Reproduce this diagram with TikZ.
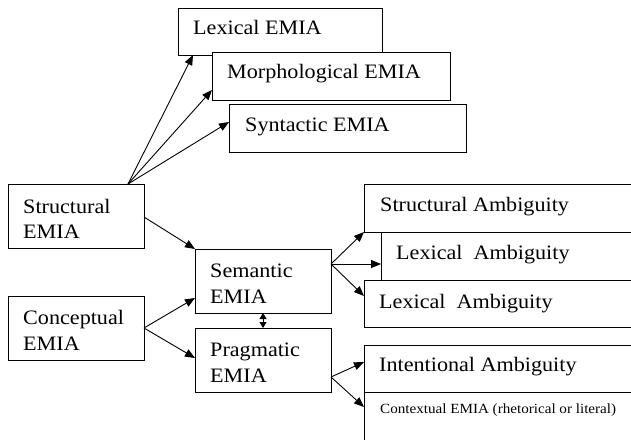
\documentclass[tikz,border=0pt]{standalone}
\usepackage{fontspec}
\setmainfont{Liberation Serif}[FakeStretch=1.08]
\usetikzlibrary{arrows.meta,calc}
\begin{document}
\begin{tikzpicture}[x=1pt,y=-1pt,
 box/.style={draw, line width=0.9pt, inner sep=0pt, outer sep=0pt, anchor=north west, fill=white},
 txt/.style={anchor=base west, inner sep=0pt, font=\fontsize{20.5}{24}\selectfont},
 smalltxt/.style={anchor=base west, inner sep=0pt, font=\fontsize{14}{17}\selectfont},
 arr/.style={-{Triangle[length=10pt,width=8pt]}, line width=0.9pt},
 dbl/.style={{Triangle[length=6pt,width=7pt]}-{Triangle[length=6pt,width=7pt]}, line width=0.9pt}]
\useasboundingbox (0,0) rectangle (631,439);
% boxes
\node[box, minimum width=204pt, minimum height=47pt] (lex) at (178,8) {};
\node[box, minimum width=238pt, minimum height=48pt] (mor) at (212,52) {};
\node[box, minimum width=237pt, minimum height=48pt] (syn) at (229,104) {};
\node[box, minimum width=136pt, minimum height=64pt] (str) at (8,184) {};
\node[box, minimum width=136pt, minimum height=64pt] (con) at (8,296) {};
\node[box, minimum width=136pt, minimum height=64pt] (sem) at (195,249) {};
\node[box, minimum width=136pt, minimum height=64pt] (pra) at (195,328) {};
\node[box, minimum width=280pt, minimum height=48pt] (sa) at (364,184) {};
\node[box, minimum width=263pt, minimum height=48pt] (la2) at (381,232) {};
\node[box, minimum width=280pt, minimum height=47pt] (la3) at (364,280) {};
\node[box, minimum width=280pt, minimum height=47pt] (ia) at (364,345) {};
\node[box, minimum width=280pt, minimum height=50pt] (ce) at (364,392) {};
% texts
\node[txt] (tlex) at (193,34) {Lexical EMIA};
\node[txt] (tmor) at (227,78) {Morphological EMIA};
\node[txt] (tsyn) at (245,131) {Syntactic EMIA};
\node[txt] (tstr1) at (23,213) {Structural};
\node[txt] (tstr2) at (23,238) {EMIA};
\node[txt] (tcon1) at (23,324) {Conceptual};
\node[txt] (tcon2) at (23,350) {EMIA};
\node[txt] (tsem1) at (210,277) {Semantic};
\node[txt] (tsem2) at (210,303) {EMIA};
\node[txt] (tpra1) at (210,356) {Pragmatic};
\node[txt] (tpra2) at (210,382) {EMIA};
\node[txt] (tsa) at (380,211) {Structural Ambiguity};
\node[txt] (tla2) at (396,259) {Lexical\ \ Ambiguity};
\node[txt] (tla3) at (379,308) {Lexical\ \ Ambiguity};
\node[txt] (tia) at (379,371) {Intentional Ambiguity};
\node[smalltxt] (tce) at (380,413) {Contextual EMIA (rhetorical or literal)};
% connectors
\coordinate (strtop) at ($(str.north west)+(120,0)$);
\draw[arr] (strtop) -- ($(lex.south west)+(15,0)$);
\draw[arr] (strtop) -- ($(mor.north west)+(0,38)$);
\draw[arr] (strtop) -- ($(syn.north west)+(0,18)$);
\draw[arr] ($(str.north east)+(0,33)$) -- (sem.north west);
\coordinate (conr) at ($(con.north east)+(0,32)$);
\draw[arr] (conr) -- ($(sem.north west)+(0,49)$);
\draw[arr] (conr) -- ($(pra.north west)+(0,30)$);
\draw[dbl] ($(sem.south west)+(68,0)$) -- ($(pra.north west)+(68,0)$);
\coordinate (semr) at ($(sem.north east)+(0,15)$);
\draw[arr] (semr) -- (sa.south west);
\draw[arr] (semr) -- ($(la2.north west)+(0,32)$);
\draw[arr] (semr) -- ($(la3.north west)+(0,16)$);
\coordinate (prar) at ($(pra.north east)+(0,49)$);
\draw[arr] (prar) -- ($(ia.north west)+(0,17)$);
\draw[arr] (prar) -- ($(ce.north west)+(0,15)$);
\end{tikzpicture}
\end{document}
